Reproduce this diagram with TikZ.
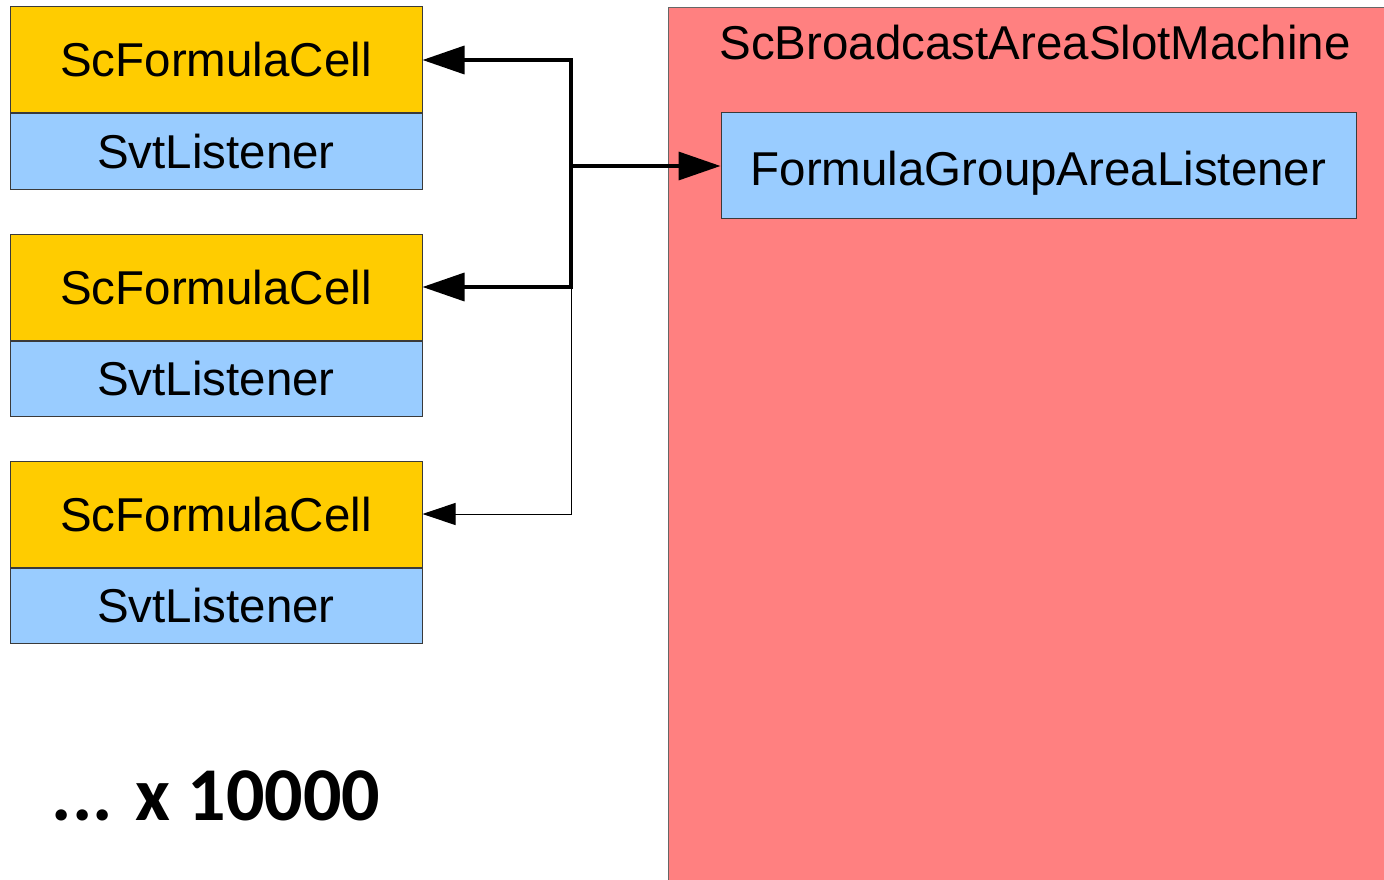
\documentclass[tikz,border=0pt]{standalone}
\usepackage{fontspec}
\setmainfont{Liberation Sans}
\newfontfamily\countfont{Carlito}
\usetikzlibrary{arrows.meta}
\definecolor{cellyellow}{HTML}{FFCC00}
\definecolor{listenblue}{HTML}{99CCFF}
\definecolor{machinered}{HTML}{FF8080}
\definecolor{edgegray}{HTML}{3A3A3A}
\definecolor{machinegray}{HTML}{666666}
\tikzset{
  boxbase/.style={rectangle, draw=edgegray, line width=1pt, inner sep=0pt,
    font=\fontsize{47.5}{57}\selectfont, text height=34pt, text depth=0pt},
  cellbox/.style={boxbase, fill=cellyellow, minimum width=412pt, minimum height=106pt},
  svtbox/.style={boxbase, fill=listenblue, minimum width=412pt, minimum height=75pt},
  groupbox/.style={boxbase, fill=listenblue, minimum width=635pt, minimum height=105pt, text height=39pt},
  machine/.style={rectangle, draw=machinegray, fill=machinered, line width=1pt, inner sep=0pt},
  bigtip/.tip={Triangle[length=42pt, width=28pt]},
  smalltip/.tip={Triangle[length=33pt, width=22pt]},
  busline/.style={line width=3.5pt, line join=miter},
  thinline/.style={line width=1pt},
}
\begin{document}
\begin{tikzpicture}[x=1pt, y=-1pt]
\useasboundingbox (0,0) rectangle (1384,880);
\clip (0,0) rectangle (1384,880);

% container holding the area listener
\node[machine, anchor=north west, minimum width=734pt, minimum height=893pt] (sam) at (668,7) {};
\node[anchor=base, font=\fontsize{47.5}{57}\selectfont, inner sep=0pt] (samtitle) at (1035,60) {ScBroadcastAreaSlotMachine};
\node[groupbox] (fga) at (1038.5,165.5) {FormulaGroupAreaListener};

% three formula cells, each with its listener part
\node[cellbox] (c1) at (216,60) {ScFormulaCell};
\node[svtbox, anchor=north] (l1) at (c1.south) {SvtListener};
\node[cellbox] (c2) at (216,287) {ScFormulaCell};
\node[svtbox, anchor=north] (l2) at (c2.south) {SvtListener};
\node[cellbox] (c3) at (216,514) {ScFormulaCell};
\node[svtbox, anchor=north] (l3) at (c3.south) {SvtListener};

\node[anchor=base, font=\countfont\bfseries\fontsize{76}{90}\selectfont, inner sep=0pt] (count) at (216,820) {... x 10000};

% broadcast wiring
\coordinate (jt) at (571,60);
\coordinate (jm) at (571,166);
\coordinate (jb) at (571,287);
\draw[busline, bigtip-bigtip] (c1.east) -- (jt) -- (jb) -- (c2.east);
\draw[busline, -bigtip] (jm) -- (jm -| fga.west);
\draw[thinline, -smalltip] (jb) |- (c3.east);
\end{tikzpicture}
\end{document}
